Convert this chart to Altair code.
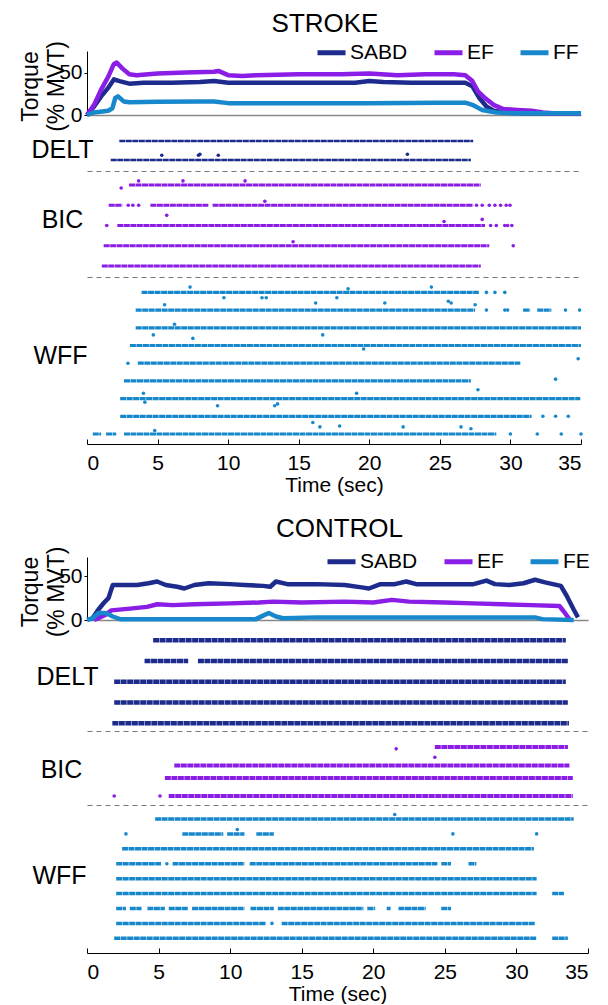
import altair as alt
import pandas as pd

NAVY = "#1c2b8c"
PURPLE = "#8a1de6"
BLUE = "#1888cc"
FONT = "Liberation Sans"

# ---------------- torque traces (time s, % MVT) ----------------
s_sabd_t = [0, 0.5, 1.0, 1.5, 1.9, 2.3, 3.0, 4, 6, 8, 9, 10, 13, 16, 19, 20, 21, 23, 25, 26.8, 27.3, 27.8, 28.3, 28.8, 29.5, 31, 35]
s_sabd_v = [0, 10, 22, 32, 42, 40, 37, 38, 38, 39, 40, 38, 38, 38, 38, 40, 39, 38, 38, 38, 34, 20, 10, 5, 3, 2, 2]
s_ef_t = [0, 0.5, 1.0, 1.5, 1.9, 2.1, 2.5, 3.0, 3.5, 5, 7, 9, 9.3, 10, 11, 12, 15, 18, 20, 22, 24, 26, 26.8, 27.3, 27.7, 28.2, 28.8, 29.5, 30.5, 31.5, 32.3, 33, 35]
s_ef_v = [0, 12, 30, 45, 60, 62, 55, 48, 47, 49, 50, 51, 52, 47, 46, 47, 48, 48, 49, 47, 48, 48, 47, 40, 28, 20, 12, 7, 6, 5, 3, 2, 2]
s_ff_t = [0, 0.5, 1.5, 1.8, 2.0, 2.2, 2.6, 3, 5, 8, 9, 10, 14, 20, 25, 26.8, 27.3, 28, 29, 30, 35]
s_ff_v = [0, 3, 5, 8, 20, 22, 16, 15, 15.5, 16, 16, 14, 14, 14, 14.5, 14.5, 12, 6, 3, 2, 2]

c_sabd_t = [0.3, 0.8, 1.2, 1.5, 1.8, 2.5, 3.5, 4.3, 4.9, 5.5, 6.3, 6.8, 7.5, 8.5, 10, 11, 12.3, 12.8, 13.2, 14, 16, 18, 19.3, 19.7, 20.5, 21.5, 22.3, 23, 25, 27, 27.9, 28.5, 29.5, 30.5, 31.3, 32, 33.1, 33.5, 34.0, 34.3]
c_sabd_v = [0, 12, 20, 25, 40, 40, 40, 42, 44, 40, 38, 36, 40, 42, 41, 40, 39, 38, 44, 41, 41, 40, 37, 36, 41, 41, 44, 41, 41, 41, 45, 41, 40, 42, 46, 43, 39, 28, 12, 3]
c_ef_t = [0.5, 0.9, 1.3, 1.7, 3, 4.2, 4.9, 6, 7.5, 10, 12, 13, 15, 18, 20, 21.3, 22.5, 25, 27, 29, 31, 33, 33.3, 33.7]
c_ef_v = [0, 3, 6, 11, 13, 15, 18, 17, 18, 19, 20, 21, 20, 21, 20, 23, 21, 20, 19, 18, 17, 16, 10, 1]
c_fe_t = [0, 0.4, 0.8, 1.3, 1.8, 2.3, 3, 6, 9, 11.8, 12.3, 12.7, 13.2, 13.7, 16, 20, 25, 30, 31.3, 31.8, 34]
c_fe_v = [0, 2, 8, 8, 4, 1, 1, 1, 1, 1, 5, 8, 4, 2, 3, 3, 3, 3, 3, 1, 0]

# ---------------- motor-unit trains: (row, start s, end s) ----------------
s_delt_trains = [(2, 2.29, 27.36), (1, 1.68, 27.2)]
s_delt_dots = [(1.25, 5.3), (1.25, 7.9), (1.3, 8.0), (1.25, 9.3), (1.3, 22.7)]

s_bic_trains = [(5, 2.98, 27.9),
                (4, 1.54, 2.5), (4, 4.49, 8.62), (4, 8.9, 27.36),
                (3, 2.15, 28.2),
                (2, 1.18, 28.5),
                (1, 1.05, 27.9)]
s_bic_dots = [(4.85, 2.42), (5.2, 3.66), (5.2, 6.8), (5.2, 11.2),
              (4, 2.92), (4, 3.25), (4, 3.66), (4, 27.6), (4, 28.0), (4, 28.5), (4, 28.9), (4, 29.3), (4, 29.7), (4, 29.97), (4.2, 12.6),
              (3, 1.4), (3, 28.6), (3, 29.0), (3, 29.6), (3, 29.8), (3, 30.1), (3.5, 5.65), (3.2, 25.3), (3.3, 28.0),
              (2, 30.2), (2.2, 14.6)]

s_wff_trains = [(9, 3.87, 27.76), (8, 3.45, 27.5), (8, 30.9, 31.4), (8, 31.9, 32.9),
                (7, 3.45, 35.0), (6, 3.04, 35.0), (5, 3.6, 30.7), (4, 2.62, 27.2),
                (3, 2.35, 34.95), (2, 2.35, 31.5), (1, 0.41, 1.0), (1, 1.35, 2.07), (1, 2.62, 29.0)]
s_wff_dots = [(9, 28.3), (9, 28.9), (9, 29.6), (9.3, 7.3), (9.3, 24.4), (9.2, 18.5), (8.5, 25.6), (8.7, 9.7),
              (8, 28.3), (8, 29.6), (8, 29.8), (8, 33.9), (8, 34.9), (8.7, 12.4), (8.7, 12.7), (8.4, 16.2), (8.7, 17.7),
              (8.4, 21.1), (8.4, 25.8), (8.3, 27.5), (8.3, 5.5),
              (7.2, 6.2), (6.6, 4.7), (6.4, 7.5), (6.6, 16.7), (5.8, 19.6),
              (5, 2.9), (5.25, 34.8), (4.1, 33.2), (3.3, 4.0), (3.3, 19.1), (3.5, 27.7),
              (2, 32.3), (2, 33.2), (2, 34.1), (2.8, 4.1), (2.6, 9.25), (2.6, 13.3), (2.7, 13.5),
              (1.65, 16.0), (1.4, 16.5), (1.45, 17.9),
              (1, 30.0), (1, 31.9), (1, 33.6), (1, 35.0), (1.2, 4.8), (1.4, 22.4), (1.4, 26.5), (1.3, 27.2)]

c_delt_trains = [(5, 4.62, 33.45), (4, 4.02, 7.07), (4, 7.75, 33.59), (3, 1.9, 33.45),
                 (2, 1.9, 33.59), (1, 1.77, 33.67)]
c_delt_dots = []

c_bic_trains = [(3.72, 24.3, 33.6), (2.7, 6.1, 33.7), (2, 5.44, 33.94), (1, 5.71, 33.94)]
c_bic_dots = [(3.62, 21.6), (3.15, 24.3), (1, 1.9), (1, 5.1)]

c_wff_trains = [(9, 4.76, 34.0), (8, 6.66, 9.52), (8, 9.79, 11.0), (8, 11.83, 13.05),
                (7, 2.45, 31.22),
                (6, 2.04, 5.17), (6, 5.98, 11.0), (6, 11.37, 24.48), (6, 24.75, 25.43), (6, 26.65, 27.2),
                (5, 2.04, 31.41), (4, 2.04, 31.41), (4, 32.5, 33.32),
                (3, 2.04, 2.72), (3, 2.99, 3.81), (3, 4.22, 5.44), (3, 5.71, 7.07), (3, 7.34, 11.0),
                (3, 11.42, 13.05), (3, 13.33, 19.31), (3, 19.58, 20.13), (3, 20.94, 21.21),
                (3, 21.76, 23.66), (3, 24.75, 25.43),
                (2, 2.04, 12.51), (2, 13.6, 31.28), (1, 1.9, 31.41), (1, 32.5, 33.59)]
c_wff_dots = [(9.3, 21.5), (8, 2.72), (8.3, 10.5), (8, 25.56), (8, 31.41), (6, 5.58), (2, 12.92)]

X_TICKS = [0, 5, 10, 15, 20, 25, 30, 35]


def torque_df(series):
    rows = []
    for name, ts, vs in series:
        for t, v in zip(ts, vs):
            rows.append({"t": t, "v": v, "m": name})
    return pd.DataFrame(rows)


def torque_chart(series, names, width, height, ymax, legend_x, legend_y, title, title_dx, title_off):
    df = torque_df(series)
    return alt.Chart(df).mark_line(strokeWidth=4.5, strokeJoin="round").encode(
        x=alt.X("t:Q", scale=alt.Scale(domain=[0, 35], nice=False, zero=False),
                axis=alt.Axis(title=None, labels=False, ticks=False, grid=False,
                              domainColor="#888888", domainWidth=1.5)),
        y=alt.Y("v:Q", scale=alt.Scale(domain=[0, ymax], nice=False),
                axis=alt.Axis(values=[0, 50], title=["Torque", "(% MVT)"], titleFontSize=23,
                              titleLineHeight=26, titleX=-57, titleY=height / 2 + 3,
                              titleAlign="center", titleBaseline="middle",
                              labelFontSize=21, labelPadding=2, tickSize=3, grid=False)),
        color=alt.Color("m:N", sort=names,
                        scale=alt.Scale(domain=names, range=[NAVY, PURPLE, BLUE]),
                        legend=alt.Legend(orient="none", legendX=legend_x, legendY=legend_y,
                                          direction="horizontal", title=None,
                                          symbolType="stroke", symbolSize=784,
                                          symbolStrokeWidth=5, labelFontSize=21,
                                          labelOffset=2, columnPadding=16)),
    ).properties(width=width, height=height,
                 title=alt.Title(title, fontSize=26, fontWeight="normal", anchor="middle",
                                 frame="group", offset=title_off, dx=title_dx))


def raster_chart(trains, dots, color, width, height, ydom, label, lx, ly, sw, bottom):
    tdf = pd.DataFrame(trains, columns=["row", "t0", "t1"])
    ddf = pd.DataFrame(dots, columns=["row", "t"])
    xs = alt.Scale(domain=[0, 35], nice=False, zero=False)
    ys = alt.Scale(domain=ydom, nice=False, zero=False)
    if bottom:
        xaxis = alt.Axis(orient="bottom", values=X_TICKS, format="d", title="Time (sec)",
                         titleFontSize=21, labelFontSize=21, ticks=False, labelPadding=8,
                         titlePadding=1, grid=False)
        xaxis2 = alt.Axis(orient="bottom", values=X_TICKS, title=None, labels=False,
                          domain=False, ticks=True, tickSize=5, offset=-5, grid=False)
    else:
        xaxis = alt.Axis(title=None, labels=False, ticks=False, grid=False,
                         domainDash=[5, 4], domainColor="#777777", domainWidth=1.2)
        xaxis2 = xaxis
    yaxis = alt.Axis(title=label, titleAngle=0, titleX=lx, titleY=ly, titleAlign="center",
                     titleBaseline="middle", titleFontSize=25, domain=False, ticks=False,
                     labels=False, grid=False)
    rules = alt.Chart(tdf).mark_rule(color=color, strokeWidth=sw, strokeDash=[6, 0.5]).encode(
        x=alt.X("t0:Q", scale=xs, axis=xaxis),
        x2="t1:Q",
        y=alt.Y("row:Q", scale=ys, axis=yaxis),
    )
    pts = alt.Chart(ddf).mark_circle(color=color, size=13, opacity=1).encode(
        x=alt.X("t:Q", scale=xs, axis=xaxis2),
        y=alt.Y("row:Q", scale=ys, axis=yaxis),
    )
    layer = alt.layer(rules, pts).properties(width=width, height=height)
    if bottom:
        layer = layer.resolve_axis(x="independent")
    return layer


def spacer(width, height):
    return alt.Chart(pd.DataFrame({"t": [0]})).mark_point(opacity=0).encode(
        x=alt.X("t:Q", axis=None), y=alt.Y("t:Q", axis=None)
    ).properties(width=width, height=height)


SW, CW = 494, 501

s_torque = torque_chart([("SABD", s_sabd_t, s_sabd_v), ("EF", s_ef_t, s_ef_v), ("FF", s_ff_t, s_ff_v)],
                        ["SABD", "EF", "FF"], SW, 64, 75.5, 228, -15, "STROKE", -9, -1)
s_delt = raster_chart(s_delt_trains, s_delt_dots, NAVY, SW, 56, [0.42, 3.37], "DELT", -25, 34, 2.6, False)
s_bic = raster_chart(s_bic_trains, s_bic_dots, PURPLE, SW, 106, [0.457, 5.69], "BIC", -25, 48, 3.2, False)
s_wff = raster_chart(s_wff_trains, s_wff_dots, BLUE, SW, 167, [0.435, 9.87], "WFF", -27, 78, 3.2, True)

c_torque = torque_chart([("SABD", c_sabd_t, c_sabd_v), ("EF", c_ef_t, c_ef_v), ("FE", c_fe_t, c_fe_v)],
                        ["SABD", "EF", "FE"], CW, 63, 72, 238, -12, "CONTROL", 2, 3)
c_delt = raster_chart(c_delt_trains, c_delt_dots, NAVY, CW, 111, [0.63, 5.97], "DELT", -20, 56, 4.5, False)
c_bic = raster_chart(c_bic_trains, c_bic_dots, PURPLE, CW, 74, [0.5, 4.61], "BIC", -26, 38, 4, False)
c_wff = raster_chart(c_wff_trains, c_wff_dots, BLUE, CW, 148, [0.014, 9.94], "WFF", -28, 70, 3.5, True)

chart = alt.vconcat(
    s_torque, s_delt, s_bic, s_wff, spacer(CW, 113), c_torque, c_delt, c_bic, c_wff,
    spacing=0, bounds="flush"
).resolve_scale(
    color="independent"
).properties(
    padding={"left": 11, "top": 3, "right": 0, "bottom": 0}
).configure(font=FONT).configure_view(stroke=None).configure_axis(
    labelFont=FONT, titleFont=FONT, labelColor="black", titleColor="black",
    domainColor="black", tickColor="black", titleFontWeight="normal"
).configure_legend(labelFont=FONT, labelColor="black").configure_title(font=FONT, color="black")

chart.save("out.html", embed_options={"renderer": "svg", "actions": False})
